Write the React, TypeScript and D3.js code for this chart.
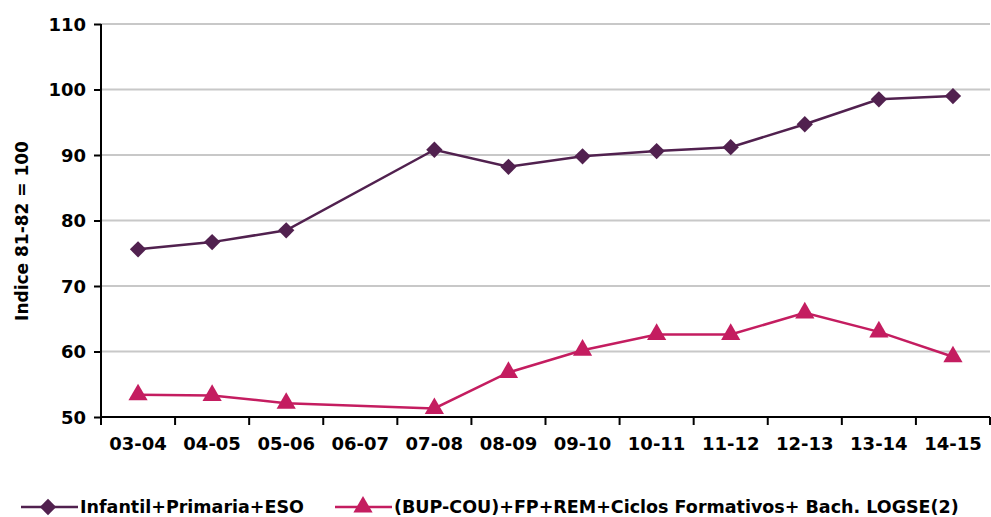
import React, { useEffect, useRef } from 'react';
import * as d3 from 'd3';

const cursos = ['03-04', '04-05', '05-06', '06-07', '07-08', '08-09', '09-10', '10-11', '11-12', '12-13', '13-14', '14-15'];
// 06-07 has no value in the source, the line just skips it
const infantilPrimariaEso = [75.6, 76.7, 78.5, null, 90.8, 88.2, 89.8, 90.6, 91.2, 94.7, 98.5, 99.0];
const bupFpCiclos = [53.4, 53.3, 52.1, null, 51.3, 56.8, 60.2, 62.6, 62.6, 65.9, 63.0, 59.2];
const yTicks = [50, 60, 70, 80, 90, 100, 110];
const seriesNames = ['Infantil+Primaria+ESO', '(BUP-COU)+FP+REM+Ciclos Formativos+ Bach. LOGSE(2)'];

const PURPLE = '#51214f';
const PINK = '#c41d60';
const FONT = '"DejaVu Sans", sans-serif';

const App = () => {
  const svgRef = useRef(null);

  useEffect(() => {
    const svg = d3.select(svgRef.current);
    svg.selectAll('*').remove();

    const width = 991;
    const height = 517;
    const margin = { top: 24, right: 1, bottom: 100, left: 101 };
    const innerWidth = 990 - margin.left;
    const innerHeight = 417 - margin.top;

    const g = svg.append('g').attr('transform', `translate(${margin.left},${margin.top})`);

    const x = d3.scaleBand().domain(cursos).range([0, innerWidth]);
    const y = d3.scaleLinear().domain([50, 110]).range([innerHeight, 0]);
    const cx = (d: string) => (x(d) ?? 0) + x.bandwidth() / 2;

    // grid
    g.append('g')
      .selectAll('line')
      .data(yTicks.filter(t => t > 50))
      .enter()
      .append('line')
      .attr('x1', 0)
      .attr('x2', innerWidth)
      .attr('y1', d => y(d))
      .attr('y2', d => y(d))
      .attr('stroke', '#c8c8c8')
      .attr('stroke-width', 2);

    // y axis
    const yAxis = g.append('g')
      .call(d3.axisLeft(y).tickValues(yTicks).tickSize(7).tickPadding(8).tickFormat(d3.format('d')));
    // x axis, ticks on band edges
    const edges = cursos.map(c => x(c) ?? 0).concat([innerWidth]);
    const xAxis = g.append('g').attr('transform', `translate(0,${innerHeight})`);
    xAxis.append('line').attr('x1', 0).attr('x2', innerWidth).attr('stroke', '#000').attr('stroke-width', 2);
    xAxis.selectAll('.edge')
      .data(edges)
      .enter()
      .append('line')
      .attr('class', 'edge')
      .attr('x1', d => d)
      .attr('x2', d => d)
      .attr('y1', 0)
      .attr('y2', 8)
      .attr('stroke', '#000')
      .attr('stroke-width', 2);
    xAxis.selectAll('text')
      .data(cursos)
      .enter()
      .append('text')
      .attr('x', d => cx(d))
      .attr('y', 33)
      .attr('text-anchor', 'middle')
      .text(d => d);

    yAxis.select('.domain').attr('stroke-width', 2).attr('d', `M0,0V${innerHeight}`);
    yAxis.selectAll('.tick line').attr('stroke-width', 2);
    [yAxis, xAxis].forEach(a => a.selectAll('text')
      .attr('font-family', FONT)
      .attr('font-weight', 'bold')
      .attr('font-size', 18)
      .attr('fill', '#000'));
    yAxis.selectAll('.tick text').attr('dy', '0.36em');

    // y title
    svg.append('text')
      .attr('transform', `translate(28,231) rotate(-90)`)
      .attr('text-anchor', 'middle')
      .attr('font-family', FONT)
      .attr('font-weight', 'bold')
      .attr('font-size', 17)
      .text('Indice 81-82 = 100');

    const series = [
      { values: infantilPrimariaEso, color: PURPLE, symbol: d3.symbolDiamond2, size: 170 },
      { values: bupFpCiclos, color: PINK, symbol: d3.symbolTriangle, size: 160 },
    ];

    series.forEach(s => {
      const pts = cursos
        .map((c, i) => ({ c, v: s.values[i] }))
        .filter(p => p.v !== null) as { c: string; v: number }[];
      const line = d3.line<{ c: string; v: number }>()
        .x(p => cx(p.c))
        .y(p => y(p.v));
      g.append('path')
        .datum(pts)
        .attr('fill', 'none')
        .attr('stroke', s.color)
        .attr('stroke-width', 2.5)
        .attr('d', line);
      g.selectAll(null)
        .data(pts)
        .enter()
        .append('path')
        .attr('transform', p => `translate(${cx(p.c)},${y(p.v)})`)
        .attr('d', d3.symbol().type(s.symbol).size(s.size)())
        .attr('fill', s.color);
    });

    // legend
    const legendX = [[21, 78, 48], [335, 392, 363]];
    const legend = svg.append('g');
    series.forEach((s, i) => {
      const [x1, x2, m] = legendX[i];
      legend.append('line')
        .attr('x1', x1).attr('x2', x2).attr('y1', 507).attr('y2', 507)
        .attr('stroke', s.color).attr('stroke-width', 2.5);
      legend.append('path')
        .attr('transform', `translate(${m},507)`)
        .attr('d', d3.symbol().type(s.symbol).size(s.size)())
        .attr('fill', s.color);
      legend.append('text')
        .attr('x', x2 + 2)
        .attr('y', 507)
        .attr('dy', '0.36em')
        .attr('font-family', FONT)
        .attr('font-weight', 'bold')
        .attr('font-size', 17.5)
        .text(seriesNames[i]);
    });

    svg.attr('width', width).attr('height', height);
  }, []);

  return (
    <svg
      ref={svgRef}
      width={991}
      height={517}
      style={{ position: 'absolute', left: 0, top: 0, background: '#fff' }}
    ></svg>
  );
};

export default App;
